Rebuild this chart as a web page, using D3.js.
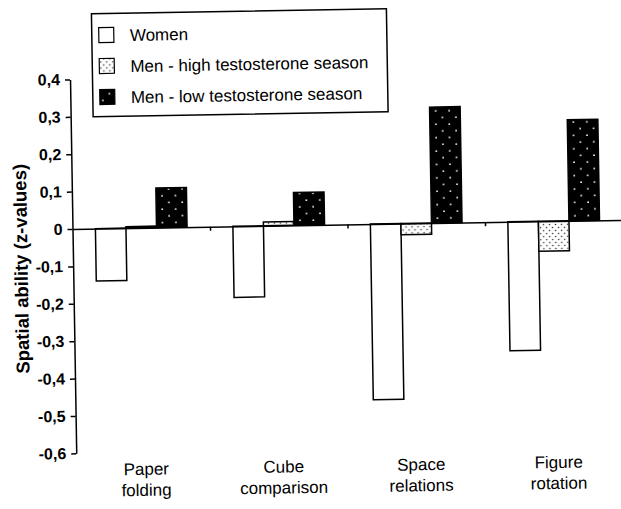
<!DOCTYPE html>
<html>
<head>
<meta charset="utf-8">
<script src="https://cdn.jsdelivr.net/npm/d3@7"></script>
<style>
  body { margin: 0; background: #fff; }
  text { font-family: "Liberation Sans", Arial, sans-serif; fill: #000; }
</style>
</head>
<body>
<div id="chart"></div>
<script>
// chart values
var categories = ['Paper folding', 'Cube comparison', 'Space relations', 'Figure rotation'];
var series     = ['Women', 'Men - high testosterone season', 'Men - low testosterone season'];
var women      = [-0.14, -0.19, -0.47, -0.345];
var menHigh    = [0.004, 0.01, -0.03, -0.08];
var menLow     = [0.106, 0.088, 0.31, 0.27];
var yTicks     = [0.4, 0.3, 0.2, 0.1, 0, -0.1, -0.2, -0.3, -0.4, -0.5, -0.6];

var W = 621, H = 509;
var axisX = 72.5;

var svg = d3.select('#chart')
            .append('svg')
            .attr('width', W)
            .attr('height', H);

// patterns for the two male series
var defs = svg.append('defs');

var high = defs.append('pattern')
               .attr('id', 'dotsLight')
               .attr('patternUnits', 'userSpaceOnUse')
               .attr('width', 6)
               .attr('height', 6);
high.append('rect').attr('width', 6).attr('height', 6).attr('fill', '#fff');
high.append('circle').attr('cx', 1.5).attr('cy', 1.5).attr('r', 0.8).attr('fill', '#333');
high.append('circle').attr('cx', 4.5).attr('cy', 4.5).attr('r', 0.8).attr('fill', '#333');

var low = defs.append('pattern')
              .attr('id', 'dotsDark')
              .attr('patternUnits', 'userSpaceOnUse')
              .attr('width', 13.4)
              .attr('height', 13.4);
low.append('rect').attr('width', 13.4).attr('height', 13.4).attr('fill', '#000');
low.append('circle').attr('cx', 3).attr('cy', 3).attr('r', 0.9).attr('fill', '#fff');
low.append('circle').attr('cx', 9.7).attr('cy', 9.7).attr('r', 0.9).attr('fill', '#fff');

var fills = ['#fff', 'url(#dotsLight)', 'url(#dotsDark)'];

// the scan is slightly tilted, keep that
var g = svg.append('g')
           .attr('transform', 'rotate(-0.95,' + axisX + ',229)');

var y = d3.scaleLinear()
          .domain([-0.6, 0.4])
          .range([453.4, 79.4]);

var x0 = d3.scaleBand()
           .domain(categories)
           .range([axisX, axisX + 550])
           .padding(0);

var x1 = d3.scaleBand()
           .domain(series)
           .range([0, x0.bandwidth()])
           .paddingInner(0)
           .paddingOuter(0.75);

var rows = categories.map(function(c, i) {
  return { cat: c, values: [women[i], menHigh[i], menLow[i]] };
});

// bars
var groups = g.selectAll('.grp')
              .data(rows)
              .enter()
              .append('g')
              .attr('class', 'grp')
              .attr('transform', function(d) { return 'translate(' + x0(d.cat) + ',0)'; });

groups.selectAll('rect')
      .data(function(d) {
        return d.values.map(function(v, j) { return { s: series[j], v: v, j: j }; });
      })
      .enter()
      .append('rect')
      .attr('x', function(d) { return x1(d.s); })
      .attr('width', x1.bandwidth())
      .attr('y', function(d) { return y(Math.max(0, d.v)); })
      .attr('height', function(d) { return Math.abs(y(d.v) - y(0)); })
      .attr('fill', function(d) { return fills[d.j]; })
      .attr('stroke', '#000')
      .attr('stroke-width', 1.5);

// y axis
var yAxis = d3.axisLeft(y)
              .tickValues(yTicks)
              .tickSize(5)
              .tickSizeOuter(0)
              .tickPadding(5)
              .tickFormat(function(d) {
                return d === 0 ? '0' : d3.format('.1f')(d).replace('.', ',').replace('−', '-');
              });

var ya = g.append('g')
          .attr('transform', 'translate(' + axisX + ',0)')
          .call(yAxis);
ya.selectAll('path, line').attr('stroke', '#000').attr('stroke-width', 1.5);
ya.selectAll('text')
  .style('font-size', '16px')
  .style('font-weight', 'bold');

// zero line with small ticks between categories
var xl = d3.scaleLinear().domain([0, categories.length]).range(x0.range());
var xa = g.append('g')
          .attr('transform', 'translate(0,' + y(0) + ')')
          .call(d3.axisBottom(xl).tickValues([1, 2, 3]).tickSize(4).tickSizeOuter(0).tickFormat(''));
xa.selectAll('path, line').attr('stroke', '#000').attr('stroke-width', 1.5);

// category labels
var labels = g.selectAll('.cat')
              .data(categories)
              .enter()
              .append('text')
              .attr('class', 'cat')
              .attr('text-anchor', 'middle')
              .style('font-size', '17px')
              .attr('transform', function(d) { return 'translate(' + (x0(d) + x0.bandwidth() / 2 + 1) + ',476)'; });
labels.selectAll('tspan')
      .data(function(d) { return d.split(' '); })
      .enter()
      .append('tspan')
      .attr('x', 0)
      .attr('dy', function(d, i) { return i === 0 ? 0 : 21; })
      .text(function(d) { return d; });

// y title
g.append('text')
 .attr('transform', 'translate(27,268) rotate(-90)')
 .attr('text-anchor', 'middle')
 .style('font-size', '18.5px')
 .style('font-weight', 'bold')
 .text('Spatial ability (z-values)');

// legend
var legend = g.append('g').attr('transform', 'translate(95,14)');
legend.append('rect')
      .attr('width', 295)
      .attr('height', 103)
      .attr('fill', '#fff')
      .attr('stroke', '#000')
      .attr('stroke-width', 1.5);

var items = legend.selectAll('.item')
                  .data(series)
                  .enter()
                  .append('g')
                  .attr('class', 'item')
                  .attr('transform', function(d, i) { return 'translate(7,' + (22 + i * 31) + ')'; });
items.append('rect')
     .attr('x', 0)
     .attr('y', -8)
     .attr('width', 15)
     .attr('height', 15)
     .attr('fill', function(d, i) { return fills[i]; })
     .attr('stroke', '#000')
     .attr('stroke-width', 1.2);
items.append('text')
     .attr('x', 31)
     .attr('y', 6)
     .style('font-size', '17px')
     .text(function(d) { return d; });
</script>
</body>
</html>
